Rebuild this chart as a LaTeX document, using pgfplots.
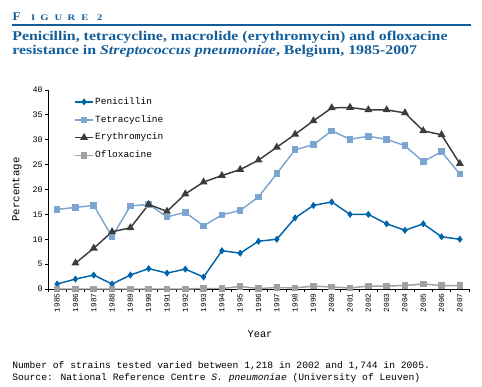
\documentclass[border=0pt]{standalone}
\usepackage{pgfplots}
\pgfplotsset{compat=1.18}
\usepackage{pgfplotstable}
\usepackage{fontspec}
\setmainfont{Liberation Serif}
\newfontfamily\mono{Liberation Mono}
\definecolor{pen}{RGB}{0,100,170}
\definecolor{tet}{RGB}{125,165,210}
\definecolor{ery}{RGB}{60,60,60}
\definecolor{oflo}{RGB}{160,160,160}
\definecolor{figblue}{RGB}{20,95,155}

\pgfplotstableread{
year val
1985 1.0
1986 2.0
1987 2.8
1988 1.0
1989 2.8
1990 4.1
1991 3.2
1992 4.0
1993 2.4
1994 7.7
1995 7.2
1996 9.6
1997 10.0
1998 14.3
1999 16.8
2000 17.5
2001 15.0
2002 15.0
2003 13.1
2004 11.8
2005 13.1
2006 10.5
2007 10.0
}\penicillin

\pgfplotstableread{
year val
1985 16.0
1986 16.4
1987 16.8
1988 10.5
1989 16.7
1990 17.0
1991 14.5
1992 15.4
1993 12.7
1994 14.9
1995 15.8
1996 18.5
1997 23.2
1998 28.0
1999 29.0
2000 31.8
2001 30.1
2002 30.7
2003 30.1
2004 28.8
2005 25.6
2006 27.6
2007 23.1
}\tetracycline

\pgfplotstableread{
year val
1986 5.2
1987 8.2
1988 11.5
1989 12.3
1990 17.0
1991 15.6
1992 19.1
1993 21.5
1994 22.8
1995 24.0
1996 25.9
1997 28.5
1998 31.1
1999 33.8
2000 36.4
2001 36.5
2002 36.0
2003 36.0
2004 35.4
2005 31.8
2006 31.0
2007 25.2
}\erythromycin

\pgfplotstableread{
year val
1985 0.0
1986 0.0
1987 0.0
1988 0.0
1989 0.0
1990 0.0
1991 0.0
1992 0.0
1993 0.1
1994 0.1
1995 0.5
1996 0.1
1997 0.3
1998 0.2
1999 0.6
2000 0.4
2001 0.2
2002 0.6
2003 0.6
2004 0.7
2005 1.0
2006 0.7
2007 0.7
}\ofloxacine

\begin{document}
\begin{tikzpicture}
\begin{scope}[x=0.75pt,y=-0.75pt]
\path[use as bounding box] (0,0) rectangle (482,386);
% Figure heading
\node[anchor=base west, inner sep=0, text=figblue, xscale=1.1] at (12.3,20) {\bfseries\fontsize{8.9}{10}\selectfont F};
\foreach \ch/\xx in {I/30.7,G/40,U/54.3,R/67.3,E/81,2/96.7}{
  \node[anchor=base west, inner sep=0, text=figblue, xscale=1.25] at (\xx,20) {\bfseries\fontsize{6.4}{8}\selectfont \ch};
}
\draw[figblue, line width=0.8pt] (12,25) -- (471,25);
\node[anchor=base west, inner sep=0, text=figblue, xscale=1.19, font=\bfseries\fontsize{10}{12}\selectfont] at (12,40.7)
  {Penicillin, tetracycline, macrolide (erythromycin) and ofloxacine};
\node[anchor=base west, inner sep=0, text=figblue, xscale=1.19, font=\bfseries\fontsize{10}{12}\selectfont] at (12,54.3)
  {resistance in \textit{Streptococcus pneumoniae}, Belgium, 1985-2007};
% axis titles
\node[rotate=90, inner sep=0, font=\mono\fontsize{8}{9}\selectfont] at (17,189.5) {Percentage};
\node[anchor=base, inner sep=0, font=\mono\fontsize{7.8}{9}\selectfont] at (260,337) {Year};
% footer
\node[anchor=base west, inner sep=0, font=\mono\fontsize{7.25}{9}\selectfont] at (12,368)
  {Number of strains tested varied between 1,218 in 2002 and 1,744 in 2005.};
\node[anchor=base west, inner sep=0, font=\mono\fontsize{7.25}{9}\selectfont] at (12,380)
  {Source: National Reference Centre \textit{S. pneumoniae} (University of Leuven)};
\end{scope}
\begin{axis}[
  at={(36pt,-216.75pt)}, anchor=south west,
  scale only axis, width=315.75pt, height=149.25pt,
  xmin=1984.5, xmax=2007.5, ymin=0, ymax=40,
  clip=false,
  axis x line*=bottom, axis y line*=left,
  axis line style={-, black, line width=0.75pt},
  tick style={black, line width=0.6pt},
  tick align=outside,
  xtick={1985,...,2007},
  minor xtick={1984.5,1985.5,...,2007.5},
  major x tick style={draw=none},
  major tick length=2.25pt, minor tick length=2.25pt,
  ytick={0,5,...,40},
  /pgf/number format/1000 sep={},
  /pgf/number format/assume math mode=true,
  x tick label style={rotate=90, anchor=east, inner sep=1pt, font=\mono\fontsize{5.8}{6}\selectfont},
  y tick label style={inner sep=1.5pt, font=\mono\fontsize{6.3}{7}\selectfont},
  legend style={at={(0.062,0.97)}, anchor=north west, draw=none, fill=none,
    font=\mono\fontsize{7.1}{8}\selectfont, row sep=4.9pt, inner sep=0pt,
    nodes={inner sep=1pt, text height=5pt, text depth=1.5pt}},
  legend cell align=left,
  legend image code/.code={\draw[mark repeat=2, mark phase=2] plot coordinates {(0pt,0pt) (6.75pt,0pt) (13.5pt,0pt)};},
]
\addplot[pen, line width=1.1pt, mark=diamond*, mark size=1.8pt, mark options={solid}] table[x=year,y=val] {\penicillin};
\addlegendentry{Penicillin}
\addplot[tet, line width=1.1pt, mark=square*, mark size=1.9pt] table[x=year,y=val] {\tetracycline};
\addlegendentry{Tetracycline}
\addplot[ery, line width=1.1pt, mark=triangle*, mark size=2.4pt] table[x=year,y=val] {\erythromycin};
\addlegendentry{Erythromycin}
\addplot[oflo, line width=1.1pt, mark=square*, mark size=1.9pt] table[x=year,y=val] {\ofloxacine};
\addlegendentry{Ofloxacine}
\end{axis}
\end{tikzpicture}
\end{document}
